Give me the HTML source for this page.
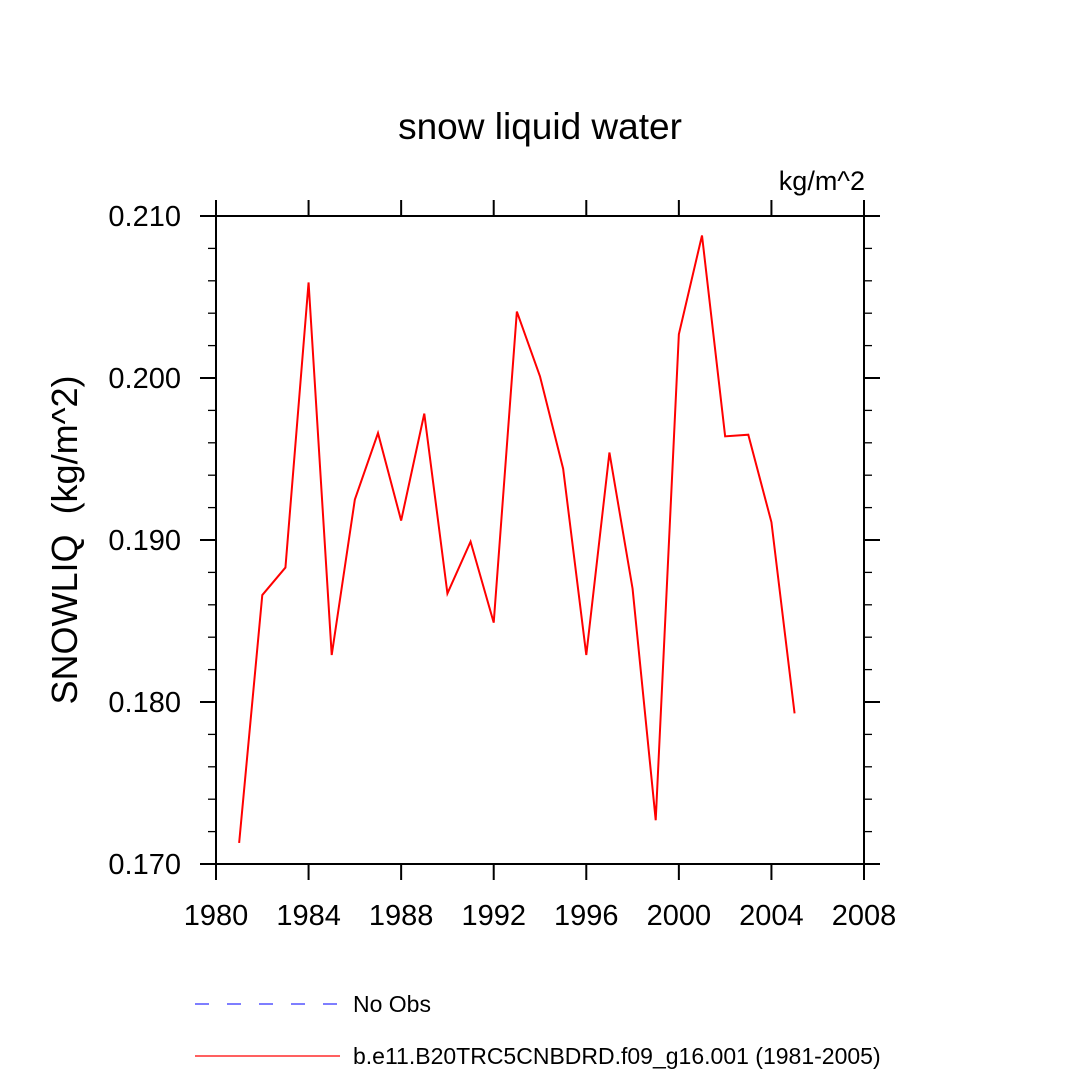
<!DOCTYPE html>
<html><head><meta charset="utf-8"><style>html,body{margin:0;padding:0;background:#fff}svg{display:block}text{font-family:"Liberation Sans",Arial,sans-serif;fill:#000}</style></head>
<body>
<svg id="chart" width="1080" height="1080" viewBox="0 0 1080 1080" xmlns="http://www.w3.org/2000/svg">
<text x="540" y="139" font-size="37" text-anchor="middle">snow liquid water</text>
<text x="865" y="190" font-size="27" text-anchor="end">kg/m^2</text>
<text transform="translate(77,540) rotate(-90)" font-size="36" text-anchor="middle" style="white-space:pre">SNOWLIQ&#160;&#160;(kg/m^2)</text>
<g id="axes"></g>
<g id="series"></g>
<g>
<line x1="195" y1="1004" x2="340" y2="1004" stroke="#3030ff" stroke-width="1.3" stroke-dasharray="14,18"/>
<text x="353" y="1012" font-size="23">No Obs</text>
<line x1="195" y1="1056" x2="340" y2="1056" stroke="#ff0000" stroke-width="1.3"/>
<text x="353" y="1064" font-size="23">b.e11.B20TRC5CNBDRD.f09_g16.001 (1981-2005)</text>
</g>
</svg>
<script>
const years=[1981,1982,1983,1984,1985,1986,1987,1988,1989,1990,1991,1992,1993,1994,1995,1996,1997,1998,1999,2000,2001,2002,2003,2004,2005];
const values=[0.1713,0.1866,0.1883,0.2059,0.1829,0.1925,0.1966,0.1912,0.1978,0.1867,0.1899,0.1849,0.2041,0.2001,0.1944,0.1829,0.1954,0.1870,0.1727,0.2027,0.2088,0.1964,0.1965,0.1911,0.1793];
const xTicks=[1980,1984,1988,1992,1996,2000,2004,2008];
const yTicks=[0.170,0.180,0.190,0.200,0.210];
const yTickLabels=["0.170","0.180","0.190","0.200","0.210"];
const L=216,R=864,T=216,B=864,x0=1980,x1=2008,y0=0.170,y1=0.210;
const X=v=>L+(v-x0)/(x1-x0)*(R-L);
const Y=v=>B-(v-y0)/(y1-y0)*(B-T);
const NS="http://www.w3.org/2000/svg";
const ax=document.getElementById('axes'),se=document.getElementById('series');
function mk(tag,attrs,parent){const e=document.createElementNS(NS,tag);for(const k in attrs)e.setAttribute(k,attrs[k]);parent.appendChild(e);return e;}
const frame=mk('rect',{x:L,y:T,width:R-L,height:B-T,fill:'none',stroke:'#000','stroke-width':2},ax);


xTicks.forEach(t=>{
 const x=X(t);
 const a=mk('line',{x1:x,y1:B,x2:x,y2:B+16,stroke:'#000','stroke-width':2},ax);
 
 
 const b=mk('line',{x1:x,y1:T,x2:x,y2:T-16,stroke:'#000','stroke-width':2},ax);
 
 
 const l=mk('text',{x:x,y:925,'font-size':29,'text-anchor':'middle'},ax);l.textContent=t;
 
 
});
for(let i=0;i<=20;i++){
 const v=y0+i*0.002,y=Y(v),major=i%5===0,len=major?16:8;
 const a=mk('line',{x1:L,y1:y,x2:L-len,y2:y,stroke:'#000','stroke-width':major?2:1.3},ax);
 
 
 const b=mk('line',{x1:R,y1:y,x2:R+len,y2:y,stroke:'#000','stroke-width':major?2:1.3},ax);
 
 
}
yTicks.forEach((t,i)=>{
 const l=mk('text',{x:181,y:Y(t)+10,'font-size':29,'text-anchor':'end'},ax);l.textContent=yTickLabels[i];
 
 
});
const line=mk('polyline',{points:years.map((y,i)=>X(y)+','+Y(values[i])).join(' '),fill:'none',stroke:'#ff0000','stroke-width':2},se);


</script>
</body></html>
